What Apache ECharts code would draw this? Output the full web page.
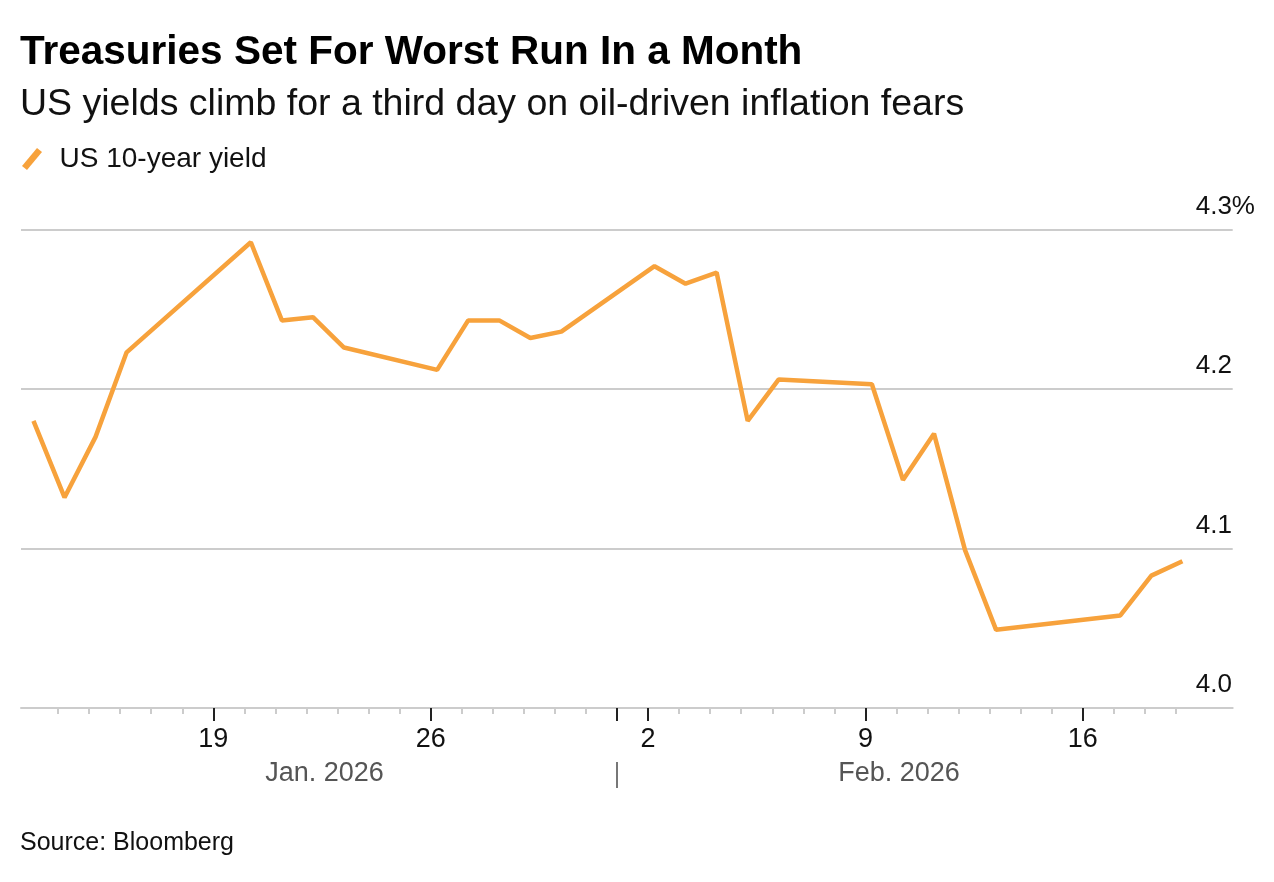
<!DOCTYPE html>
<html>
<head>
<meta charset="utf-8">
<script src="https://cdn.jsdelivr.net/npm/echarts@6/dist/echarts.min.js"></script>
<style>
  html, body { margin: 0; padding: 0; background: #fff; }
  #chart { width: 1274px; height: 882px; }
</style>
</head>
<body>
<div id="chart"></div>
<script>
// ---- data ----
const dates = ['2026-01-13','2026-01-14','2026-01-15','2026-01-16','2026-01-20','2026-01-21','2026-01-22','2026-01-23',
  '2026-01-26','2026-01-27','2026-01-28','2026-01-29','2026-01-30','2026-02-02','2026-02-03','2026-02-04','2026-02-05',
  '2026-02-06','2026-02-09','2026-02-10','2026-02-11','2026-02-12','2026-02-13','2026-02-17','2026-02-18','2026-02-19'];
const yields = [4.180,4.132,4.170,4.223,4.292,4.243,4.245,4.226,
  4.212,4.243,4.243,4.232,4.236,4.277,4.266,4.273,4.180,
  4.206,4.203,4.143,4.172,4.099,4.049,4.058,4.083,4.092];
const weekTicks = ['2026-01-19','2026-01-26','2026-02-02','2026-02-09','2026-02-16'];
const monthBreakDate = '2026-02-01';
const minorTickRange = ['2026-01-14','2026-02-19'];
const monthLabels = ['Jan. 2026','Feb. 2026'];
const yTicks = [4.0, 4.1, 4.2, 4.3];
const seriesName = 'US 10-year yield';

// ---- helpers ----
const DAY = 86400000;
const t = s => Date.parse(s + 'T00:00:00Z');
const OBS_OFFSET = 5 * 3600 * 1000;
const seriesData = dates.map((d, i) => [t(d) + OBS_OFFSET, yields[i]]);
const majorTicks = weekTicks.map(t);
const monthBreak = t(monthBreakDate);
const minorTicks = [];
for (let v = t(minorTickRange[0]); v <= t(minorTickRange[1]); v += DAY) {
  if (!majorTicks.includes(v) && v !== monthBreak) minorTicks.push(v);
}
const monthAnchors = [Date.parse('2026-01-22T14:00:00Z'), Date.parse('2026-02-10T02:00:00Z')];
const xMin = Date.parse('2026-01-12T19:22:00Z');
const xMax = Date.parse('2026-02-20T19:52:00Z');

const FONT = '"Liberation Sans", Arial, Helvetica, sans-serif';
const ORANGE = '#F7A23C';
const GRID = '#cccccc';

const chart = echarts.init(document.getElementById('chart'), null, { renderer: 'canvas' });
chart.setOption({
  animation: false,
  backgroundColor: '#ffffff',
  textStyle: { fontFamily: FONT },
  title: [
    { text: 'Treasuries Set For Worst Run In a Month', left: 20, top: 32, padding: 0,
      textStyle: { fontFamily: FONT, fontSize: 40.5, fontWeight: 'bold', color: '#000' } },
    { text: 'US yields climb for a third day on oil-driven inflation fears', left: 20, top: 86, padding: 0,
      textStyle: { fontFamily: FONT, fontSize: 37.5, fontWeight: 'normal', color: '#111' } },
    { text: 'Source: Bloomberg', left: 20, top: 831, padding: 0,
      textStyle: { fontFamily: FONT, fontSize: 25, fontWeight: 'normal', color: '#111' } }
  ],
  legend: {
    left: 22, top: 145, padding: 0,
    itemWidth: 21, itemHeight: 22,
    itemStyle: { color: ORANGE, borderWidth: 0 },
    textStyle: { fontFamily: FONT, fontSize: 28, color: '#111', padding: [0, 0, 0, 12] },
    data: [{ name: seriesName, icon: 'path://M0,18L15,0L20,4L5,22Z' }]
  },
  grid: { left: 21, right: 41.3, top: 229.5, bottom: 174, containLabel: false },
  xAxis: [
    {
      type: 'value', min: xMin, max: xMax, position: 'bottom',
      axisLine: { show: true, lineStyle: { color: GRID, width: 2 } },
      splitLine: { show: false },
      axisTick: { show: true, customValues: majorTicks.concat([monthBreak]), length: 13,
        lineStyle: { color: '#222', width: 2 } },
      axisLabel: { show: true, customValues: majorTicks, margin: 18,
        formatter: v => String(new Date(v).getUTCDate()),
        fontFamily: FONT, fontSize: 27, color: '#111' }
    },
    {
      type: 'value', min: xMin, max: xMax, position: 'bottom',
      axisLine: { show: false }, splitLine: { show: false },
      axisTick: { show: true, customValues: minorTicks, length: 6,
        lineStyle: { color: GRID, width: 2 } },
      axisLabel: { show: false }
    },
    {
      type: 'value', min: xMin, max: xMax, position: 'bottom', offset: 54,
      axisLine: { show: false }, splitLine: { show: false },
      axisTick: { show: true, customValues: [monthBreak], length: 26,
        lineStyle: { color: '#777', width: 2 } },
      axisLabel: { show: true, customValues: monthAnchors, margin: -2,
        formatter: v => monthLabels[monthAnchors.indexOf(v)] || '',
        fontFamily: FONT, fontSize: 27, color: '#555' }
    }
  ],
  yAxis: {
    type: 'value', position: 'right',
    min: yTicks[0], max: yTicks[yTicks.length - 1], interval: 0.1,
    axisLine: { show: false }, axisTick: { show: false },
    splitLine: { show: true, lineStyle: { color: GRID, width: 2 } },
    axisLabel: {
      inside: true, align: 'left', verticalAlign: 'bottom', margin: 37,
      padding: [0, 0, 10, 0],
      fontFamily: FONT, fontSize: 26, color: '#111',
      formatter: v => {
        const s = v.toFixed(1);
        return s === yTicks[yTicks.length - 1].toFixed(1) ? s + '%' : s;
      }
    }
  },
  series: [{
    name: seriesName, type: 'line', xAxisIndex: 0, yAxisIndex: 0,
    data: seriesData, showSymbol: false, symbol: 'none',
    lineStyle: { color: ORANGE, width: 4.5 },
    itemStyle: { color: ORANGE }
  }]
});
</script>
</body>
</html>
